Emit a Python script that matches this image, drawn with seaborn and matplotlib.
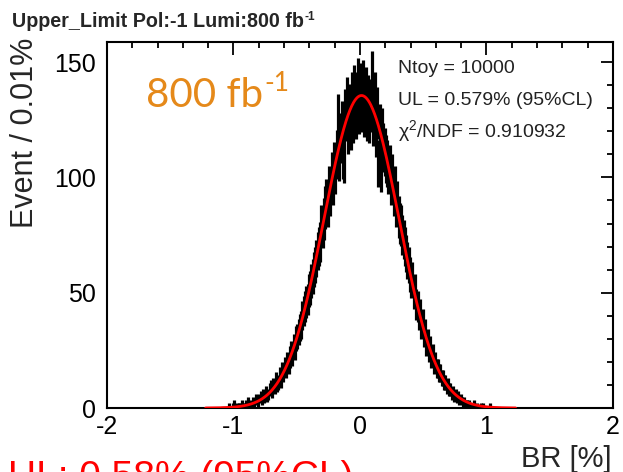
import numpy as np
import matplotlib
matplotlib.use("Agg")
import matplotlib.pyplot as plt
import seaborn as sns
from matplotlib.ticker import MultipleLocator

# ---------------- data ----------------
title_main = "Upper_Limit Pol:-1 Lumi:800 fb"
lumi_main = "800 fb"
superscript = "-1"
stat_lines = ["Ntoy = 10000", "UL = 0.579% (95%CL)", "\u03c7$^{2}$/NDF = 0.910932"]
bottom_note = "UL: 0.58% (95%CL)"
x_label = "BR [%]"
y_label = "Event / 0.01%"
x_ticks = [-2, -1, 0, 1, 2]
y_ticks = [0, 50, 100, 150]

bin_first_edge = -1.10
bin_width = 0.01
counts_neg = [0, 0, 0, 0, 0, 0, 1, 0, 0, 1,          # -1.10 .. -1.01
              2, 0, 1, 0, 1, 1, 2, 1, 1, 2,          # -1.00 .. -0.91
              1, 3, 2, 1, 2, 3, 2, 4, 3, 2,          # -0.90 .. -0.81
              4, 5, 3, 6, 4, 7, 5, 6, 8, 9,          # -0.80 .. -0.71
              7, 10, 9, 12, 10, 11, 14, 12, 16, 15,  # -0.70 .. -0.61
              18, 17, 20, 19, 22, 24, 23, 27, 26, 30,  # -0.60 .. -0.51
              31, 33, 35, 36, 40, 42, 44, 46, 47, 51,  # -0.50 .. -0.41
              52, 55, 57, 60, 62, 65, 68, 70, 72, 79,  # -0.40 .. -0.31
              78, 82, 87, 90, 88, 95, 93, 101, 98, 105,  # -0.30 .. -0.21
              103, 110, 125, 109, 117, 122, 110, 108, 127, 132,  # -0.20 .. -0.11
              121, 129, 123, 134, 126, 137, 128, 134, 140, 130]  # -0.10 .. -0.01
counts_pos = [138, 131, 139, 129, 136, 127, 133, 126, 131, 143,  # 0.00 .. 0.09
              125, 134, 120, 128, 106, 121, 104, 119, 113, 111,  # 0.10 .. 0.19
              108, 106, 103, 104, 98, 100, 93, 95, 88, 89,       # 0.20 .. 0.29
              83, 80, 79, 75, 73, 70, 67, 64, 62, 58,            # 0.30 .. 0.39
              55, 56, 50, 51, 45, 44, 40, 41, 36, 37,            # 0.40 .. 0.49
              32, 33, 28, 29, 25, 26, 22, 23, 19, 20,            # 0.50 .. 0.59
              17, 17, 15, 15, 13, 13, 11, 11, 9, 10,             # 0.60 .. 0.69
              8, 8, 6, 7, 5, 6, 4, 5, 3, 4,                      # 0.70 .. 0.79
              3, 2, 3, 2, 2, 1, 2, 1, 0, 1,                      # 0.80 .. 0.89
              2, 0, 1, 0, 0, 1, 0, 1, 0, 0,                      # 0.90 .. 0.99
              0, 0, 1, 0, 0, 0]                                  # 1.00 .. 1.05

# Gaussian fit result
fit_amp = 135.5
fit_mean = 0.012
fit_sigma = 0.296
fit_range = (-1.22, 1.23)

# ---------------- style ----------------
sns.set_theme(style="white")
plt.rcParams['font.family'] = ['Liberation Sans', 'DejaVu Sans']
plt.rcParams['mathtext.default'] = 'regular'

fig = plt.figure(figsize=(6.23, 4.72), dpi=100)
W, H = 623, 472
ax = fig.add_axes([107 / W, 1 - 408 / H, (613 - 107) / W, (408 - 42) / H])

counts = np.array(counts_neg + counts_pos, dtype=float)
centers = bin_first_edge + bin_width * (np.arange(len(counts)) + 0.5)

ax.errorbar(centers, counts, xerr=bin_width / 2, yerr=np.sqrt(counts),
            fmt='none', ecolor='black', elinewidth=2.3, capsize=0, zorder=2)

xf = np.linspace(fit_range[0], fit_range[1], 500)
yf = fit_amp * np.exp(-0.5 * ((xf - fit_mean) / fit_sigma) ** 2)
sns.lineplot(x=xf, y=yf, color='red', lw=2.0, ax=ax, zorder=3)

ax.set_xlim(-2, 2)
ax.set_ylim(0, 158.7)
ax.set_xticks(x_ticks)
ax.set_xticklabels([str(t) for t in x_ticks])
ax.set_yticks(y_ticks)
ax.xaxis.set_minor_locator(MultipleLocator(0.2))
ax.yaxis.set_minor_locator(MultipleLocator(10))
ax.tick_params(which='both', direction='in', top=True, right=True, colors='black', width=1.3)
ax.tick_params(which='major', length=9, labelsize=18)
ax.tick_params(which='minor', length=4.5)
ax.tick_params(axis='y', which='major', pad=8)
ax.tick_params(axis='x', which='major', pad=5)
for s in ax.spines.values():
    s.set_color('black')
    s.set_linewidth(1.5)
ax.set_xlabel('')
ax.set_ylabel('')


def text_with_sup(x_px, base_px, main, sup, size, sup_size, rise_px, **kw):
    t = fig.text(x_px / W, 1 - base_px / H, main, fontsize=size, ha='left', va='baseline', **kw)
    fig.canvas.draw()
    bb = t.get_window_extent()
    fig.text(bb.x1 / W + 1 / W, 1 - (base_px - rise_px) / H, sup, fontsize=sup_size,
             ha='left', va='baseline', **kw)


# texts
text_with_sup(12, 27, title_main, superscript, 14.2, 8.5, 7, fontweight='bold')
fig.text(25 / W, 1 - 38 / H, y_label, rotation=90, fontsize=22, ha='center', va='top')
fig.text(612 / W, 1 - 467 / H, x_label, fontsize=21, ha='right', va='baseline')
text_with_sup(146, 107, lumi_main, superscript, 29, 19, 16, color='#E5891A',
              family=['Lato', 'DejaVu Sans'])
for i, line in enumerate(stat_lines):
    fig.text(398 / W, 1 - (73 + 32 * i) / H, line, fontsize=14, color='#222222',
             ha='left', va='baseline')
fig.text(8 / W, 1 - 488 / H, bottom_note, fontsize=28, color='red', ha='left', va='baseline')

fig.savefig('out.png', dpi=100)
